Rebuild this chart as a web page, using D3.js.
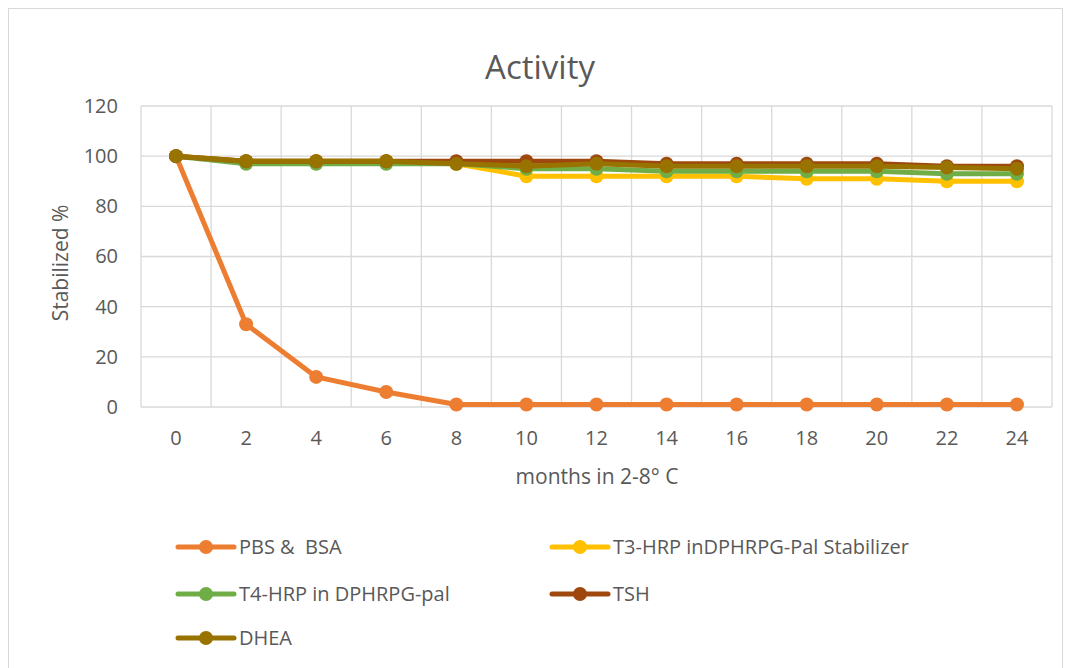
<!DOCTYPE html>
<html lang="en">
<head>
  <meta charset="UTF-8" />
  <title>Activity</title>
  <script src="https://cdn.jsdelivr.net/npm/d3@7"></script>
  <style>
    body { margin: 0; background: #fff; }
    text { font-family: "Open Sans", "Noto Sans", sans-serif; }
  </style>
</head>
<body>
  <svg width="1071" height="668"></svg>

  <script>
    // data
    const months = [0, 2, 4, 6, 8, 10, 12, 14, 16, 18, 20, 22, 24];
    const yTicks = [0, 20, 40, 60, 80, 100, 120];
    const seriesNames = ['PBS &  BSA', 'T3-HRP inDPHRPG-Pal Stabilizer', 'T4-HRP in DPHRPG-pal', 'TSH', 'DHEA'];
    const seriesColors = ['#ED7D31', '#FFC000', '#70AD47', '#9E480E', '#997300'];
    const pbsBsa = [100, 33, 12, 6, 1, 1, 1, 1, 1, 1, 1, 1, 1];
    const t3Hrp = [100, 98, 98, 98, 97, 92, 92, 92, 92, 91, 91, 90, 90];
    const t4Hrp = [100, 97, 97, 97, 97, 95, 95, 94, 94, 94, 94, 93, 93];
    const tsh = [100, 98, 98, 98, 98, 98, 98, 97, 97, 97, 97, 96, 96];
    const dhea = [100, 98, 98, 98, 97, 96, 97, 96, 96, 96, 96, 95.5, 95];
    const seriesValues = [pbsBsa, t3Hrp, t4Hrp, tsh, dhea];

    const svg = d3.select('svg');

    // chart frame
    svg.append('rect')
      .attr('x', 8.5).attr('y', 8.5)
      .attr('width', 1054).attr('height', 680)
      .attr('fill', '#fff')
      .attr('stroke', '#d9d9d9');

    const plot = { left: 141, right: 1052, top: 106, bottom: 407 };

    const x = d3.scaleBand().domain(months).range([plot.left, plot.right]).padding(0);
    const y = d3.scaleLinear().domain([0, 120]).range([plot.bottom, plot.top]);
    const cx = (m) => x(m) + x.bandwidth() / 2;

    // grid
    const grid = svg.append('g').attr('stroke', '#d9d9d9').attr('stroke-width', 1.3);
    grid.selectAll('line.h')
      .data(yTicks)
      .enter()
      .append('line')
      .attr('x1', plot.left).attr('x2', plot.right)
      .attr('y1', (d) => y(d)).attr('y2', (d) => y(d));
    const edges = months.map((m) => x(m)).concat([plot.right]);
    grid.selectAll('line.v')
      .data(edges)
      .enter()
      .append('line')
      .attr('x1', (d) => d).attr('x2', (d) => d)
      .attr('y1', plot.top).attr('y2', plot.bottom);

    // axes (labels only, Excel style)
    const yAxis = svg.append('g')
      .attr('transform', `translate(${plot.left - 23},0)`)
      .call(d3.axisLeft(y).tickValues(yTicks).tickSize(0).tickPadding(0));
    yAxis.select('.domain').remove();
    yAxis.selectAll('text').attr('fill', '#595959').style('font-size', '20px');

    const xAxis = svg.append('g')
      .attr('transform', 'translate(0,438)')
      .call(d3.axisBottom(x).tickSize(0).tickPadding(0));
    xAxis.select('.domain').remove();
    xAxis.selectAll('text').attr('fill', '#595959').attr('y', 0).attr('dy', '0.36em').style('font-size', '20px');

    // titles
    svg.append('text')
      .attr('x', 540).attr('y', 79)
      .attr('text-anchor', 'middle')
      .attr('fill', '#595959')
      .style('font-size', '33px')
      .text('Activity');

    svg.append('text')
      .attr('transform', 'translate(68,263) rotate(-90)')
      .attr('text-anchor', 'middle')
      .attr('fill', '#595959')
      .style('font-size', '21px')
      .text('Stabilized %');

    svg.append('text')
      .attr('x', 597).attr('y', 484)
      .attr('text-anchor', 'middle')
      .attr('fill', '#595959')
      .style('font-size', '21px')
      .text('months in 2-8° C');

    // series
    const line = d3.line().x((d, i) => cx(months[i])).y((d) => y(d));
    seriesValues.forEach((vals, s) => {
      const g = svg.append('g');
      g.append('path')
        .datum(vals)
        .attr('d', line)
        .attr('fill', 'none')
        .attr('stroke', seriesColors[s])
        .attr('stroke-width', 5)
        .attr('stroke-linejoin', 'round');
      g.selectAll('circle')
        .data(vals)
        .enter()
        .append('circle')
        .attr('cx', (d, i) => cx(months[i]))
        .attr('cy', (d) => y(d))
        .attr('r', 7)
        .attr('fill', seriesColors[s]);
    });

    // legend
    const legendPos = [[178, 547], [552, 547], [178, 594], [552, 594], [178, 638]];
    const legend = svg.append('g')
      .selectAll('g')
      .data(seriesNames)
      .enter()
      .append('g')
      .attr('transform', (d, i) => `translate(${legendPos[i][0]},${legendPos[i][1]})`);
    legend.append('line')
      .attr('x1', 0).attr('x2', 56)
      .attr('stroke', (d, i) => seriesColors[i])
      .attr('stroke-width', 5)
      .attr('stroke-linecap', 'round');
    legend.append('circle')
      .attr('cx', 28).attr('r', 7)
      .attr('fill', (d, i) => seriesColors[i]);
    legend.append('text')
      .attr('x', 61).attr('dy', '0.36em')
      .attr('fill', '#595959')
      .style('font-size', '20px')
      .style('white-space', 'pre')
      .text((d) => d);
  </script>
</body>
</html>
